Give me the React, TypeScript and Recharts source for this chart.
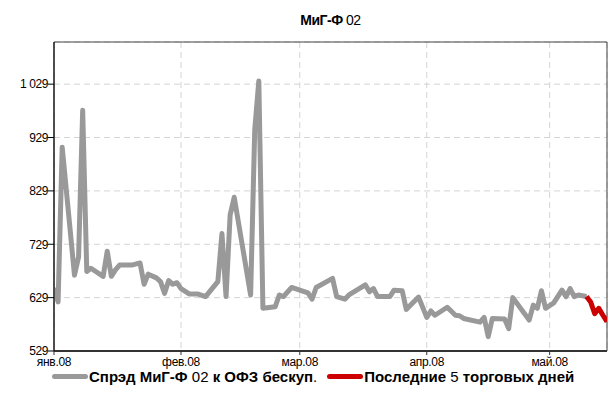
import React from 'react';
import {
  LineChart,
  Line,
  XAxis,
  YAxis,
  CartesianGrid,
  ReferenceArea
} from 'recharts';

// days counted from 1 Jan 2008
const spreadDays = [
  0, 1, 2, 5, 6, 7, 8, 9, 12, 13, 14, 15, 16, 19, 21, 22, 23, 25, 26, 27, 28, 29, 30, 31, 33, 35, 37,
  40, 41, 42, 43, 44, 48, 49, 50, 51, 54, 55, 56, 58, 62, 63, 64, 68, 69, 71, 72, 76, 77, 78, 79, 82,
  83, 85, 86, 89, 91, 92, 93, 96, 98, 99, 100, 104, 105, 106, 107, 110, 111, 112, 116, 117, 118, 119,
  120, 122, 124, 125, 126, 127, 128, 130
];
const spreadValues = [
  647, 621, 911, 671, 705, 980, 678, 684, 669, 716, 669, 681, 690, 690, 694, 654, 673, 666, 659, 637,
  661, 654, 657, 646, 636, 636, 631, 659, 749, 631, 784, 817, 634, 943, 1035, 609, 612, 634, 631, 648,
  638, 626, 648, 665, 631, 626, 634, 653, 640, 646, 631, 631, 643, 642, 607, 630, 592, 604, 596, 611,
  596, 595, 590, 583, 592, 556, 590, 589, 571, 629, 587, 615, 609, 642, 609, 619, 643, 631, 646, 631,
  634, 631
];
const lastDays = [130, 131, 132, 133, 134, 135];
const lastValues = [631, 621, 599, 609, 596, 584];

const monthTicks = [0, 31, 60, 91, 121];
const monthLabels = ['янв.08', 'фев.08', 'мар.08', 'апр.08', 'май.08'];
const yTicks = [529, 629, 729, 829, 929, 1029];

const spreadData = spreadDays.map((d, i) => ({ d, v: spreadValues[i] }));
const lastData = lastDays.map((d, i) => ({ d, v: lastValues[i] }));

const font = "'Liberation Sans Narrow', 'Arial Narrow', 'Liberation Sans', Arial, sans-serif";

const fmtY = (v: number) => String(v).replace(/\B(?=(\d{3})+(?!\d))/g, ' ');
const fmtX = (v: number) => monthLabels[monthTicks.indexOf(v)] ?? '';

const App: React.FC = () => {
  return (
    <div style={{ position: 'absolute', left: 0, top: 0, width: 608, height: 399, background: '#fff', fontFamily: font }}>
      <div
        style={{
          position: 'absolute',
          left: 54,
          width: 553,
          top: 12,
          textAlign: 'center',
          fontSize: 14,
          letterSpacing: -0.5,
          color: '#000'
        }}
      >
        <b>МиГ-Ф</b> 02
      </div>
      <LineChart width={608} height={399} data={spreadData} margin={{ top: 42, right: 1, left: 0, bottom: 28 }}>
        <CartesianGrid stroke="#d4d4d4" strokeDasharray="6 4" strokeWidth={1} />
        <XAxis
          dataKey="d"
          type="number"
          domain={[0, 135]}
          ticks={monthTicks}
          tickFormatter={fmtX}
          height={20}
          tick={{ fontSize: 12, fill: '#000', fontFamily: font, letterSpacing: -0.3 }}
          axisLine={{ stroke: '#333', strokeWidth: 2 }}
          tickLine={{ stroke: '#333' }}
          tickSize={4}
          allowDataOverflow
        />
        <YAxis
          type="number"
          domain={[529, 1108]}
          ticks={yTicks}
          tickFormatter={fmtY}
          width={54}
          tick={{ fontSize: 12, fill: '#000', fontFamily: font, letterSpacing: -0.4, dx: 2 }}
          axisLine={{ stroke: '#000' }}
          tickLine={{ stroke: '#000' }}
          tickSize={6}
          allowDataOverflow
        />
        <ReferenceArea x1={0} x2={135} y1={529} y2={1108} fill="none" stroke="#444" strokeWidth={1} />
        <Line
          data={spreadData}
          dataKey="v"
          stroke="#999999"
          strokeWidth={5}
          dot={false}
          strokeLinejoin="round"
          isAnimationActive={false}
        />
        <Line
          data={lastData}
          dataKey="v"
          stroke="#cc0000"
          strokeWidth={5}
          dot={false}
          strokeLinejoin="round"
          isAnimationActive={false}
        />
      </LineChart>
      <div
        style={{
          position: 'absolute',
          left: 52,
          top: 368,
          display: 'flex',
          alignItems: 'center',
          fontSize: 15,
          color: '#000',
          whiteSpace: 'nowrap'
        }}
      >
        <span style={{ display: 'inline-block', width: 36, height: 5, background: '#999', borderRadius: 3, marginRight: 1 }} />
        <span>
          <b>Спрэд МиГ-Ф</b> 02 <b>к ОФЗ бескуп</b>.
        </span>
        <span style={{ display: 'inline-block', width: 36, height: 5, background: '#cc0000', borderRadius: 3, marginLeft: 10, marginRight: 1 }} />
        <span>
          <b>Последние</b> 5 <b>торговых дней</b>
        </span>
      </div>
    </div>
  );
};

export default App;
